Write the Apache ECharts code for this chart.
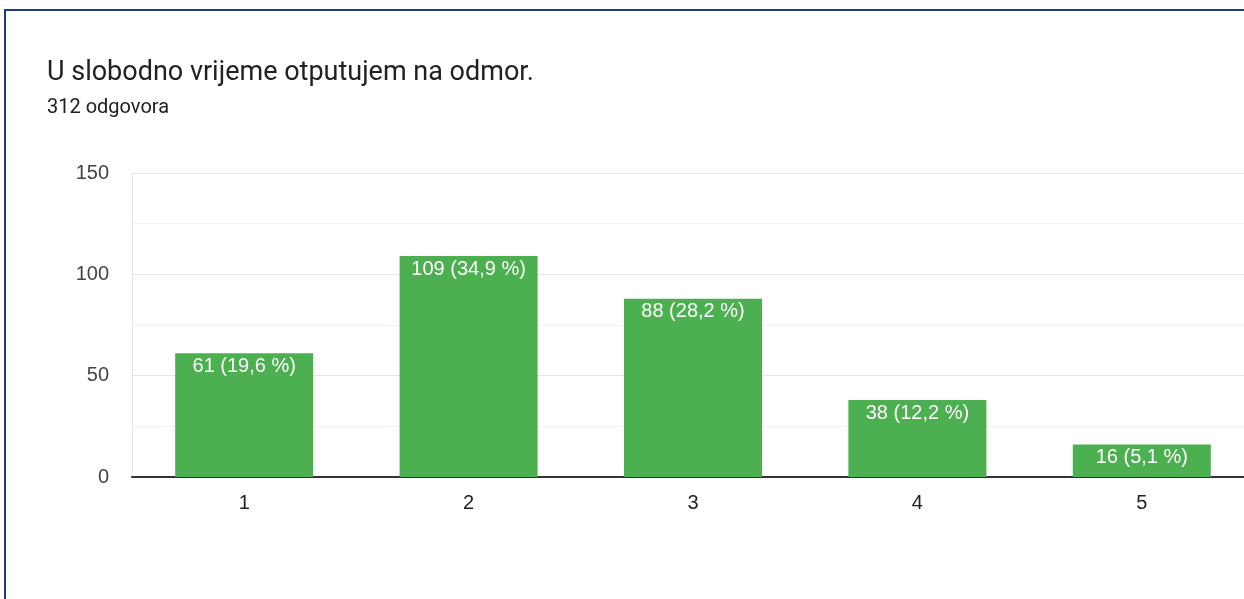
<!DOCTYPE html>
<html>
<head>
<meta charset="utf-8">
<script src="https://cdn.jsdelivr.net/npm/echarts@6/dist/echarts.min.js"></script>
<style>
  html, body { margin: 0; padding: 0; background: #fff; }
  #chart { width: 1244px; height: 599px; }
</style>
</head>
<body>
<div id="chart"></div>
<script>
var titleText = 'U slobodno vrijeme otputujem na odmor.';
var subText = '312 odgovora';
var categories = ['1', '2', '3', '4', '5'];
var counts = [61, 109, 88, 38, 16];
var percents = ['19,6', '34,9', '28,2', '12,2', '5,1'];
var yTicks = [0, 50, 100, 150];

var titleFont = 'Roboto, Arial, sans-serif';
var font = '"Liberation Sans", Arial, sans-serif';

var option = {
  animation: false,
  backgroundColor: '#fff',
  graphic: [{
    type: 'rect',
    shape: { x: 5, y: 10, width: 1260, height: 620 },
    style: { fill: 'none', stroke: '#1d3b78', lineWidth: 2 },
    silent: true
  }],
  title: {
    text: titleText,
    subtext: subText,
    left: 42,
    top: 55,
    itemGap: 11,
    textStyle: { fontFamily: titleFont, fontSize: 27, fontWeight: 'normal', color: '#202124' },
    subtextStyle: { fontFamily: titleFont, fontSize: 20, color: '#202124' }
  },
  grid: { left: 132, width: 1122, top: 173, bottom: 122, outerBoundsMode: 'none', containLabel: false },
  xAxis: {
    type: 'category',
    data: categories,
    axisLine: { lineStyle: { color: '#333', width: 2 } },
    axisTick: { show: false },
    axisLabel: { fontFamily: font, fontSize: 20, color: '#222', margin: 16 }
  },
  yAxis: {
    type: 'value',
    min: yTicks[0],
    max: yTicks[yTicks.length - 1],
    interval: 50,
    axisLine: { show: true, lineStyle: { color: '#e6e6e6' } },
    axisTick: { show: false },
    axisLabel: { fontFamily: font, fontSize: 20, color: '#444', margin: 23 },
    splitLine: { lineStyle: { color: '#e6e6e6' } },
    minorTick: { show: false, splitNumber: 2 },
    minorSplitLine: { show: true, lineStyle: { color: '#f2f2f2' } }
  },
  series: [{
    type: 'bar',
    data: counts,
    barWidth: '61.5%',
    itemStyle: { color: '#4caf50' },
    label: {
      show: true,
      position: 'insideTop',
      distance: 3,
      fontFamily: font,
      fontSize: 20,
      color: '#fff',
      formatter: function (p) {
        return p.value + ' (' + percents[p.dataIndex] + ' %)';
      }
    }
  }]
};

var chart = echarts.init(document.getElementById('chart'));
chart.setOption(option);
</script>
</body>
</html>
